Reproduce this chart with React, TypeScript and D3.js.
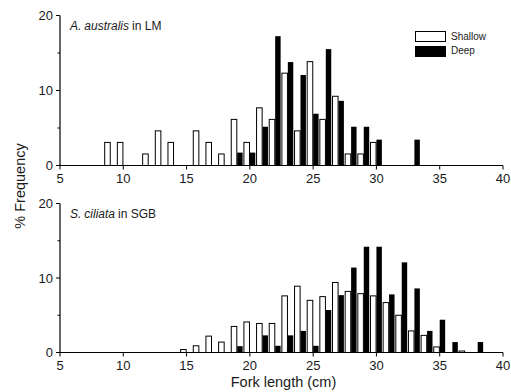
import React from "react";
import * as d3 from "d3";

const topShallowCats = [9, 10, 12, 13, 14, 16, 17, 18, 19, 20, 21, 22, 23, 24, 25, 26, 27, 28, 29, 30];
const topShallowVals = [3.08, 3.08, 1.54, 4.62, 3.08, 4.62, 3.08, 1.54, 6.15, 3.08, 7.69, 6.15, 12.31, 4.62, 13.85, 6.15, 9.23, 1.54, 1.54, 3.08];
const topDeepCats = [19, 20, 21, 22, 23, 24, 25, 26, 27, 28, 29, 30, 33];
const topDeepVals = [1.72, 1.72, 5.17, 17.24, 13.79, 12.07, 6.9, 15.52, 8.62, 5.17, 5.17, 3.45, 3.45];

const botShallowCats = [15, 16, 17, 18, 19, 20, 21, 22, 23, 24, 25, 26, 27, 28, 29, 30, 31, 32, 33, 34, 35, 37];
const botShallowVals = [0.4, 0.9, 2.2, 1.4, 3.5, 4.1, 3.9, 3.9, 7.6, 8.9, 7.0, 7.5, 9.4, 8.2, 7.9, 7.6, 6.7, 5.0, 2.9, 2.3, 0.75, 0.2];
const botDeepCats = [19, 21, 22, 23, 24, 25, 26, 27, 28, 29, 30, 31, 32, 33, 34, 35, 36, 38];
const botDeepVals = [0.85, 2.3, 0.9, 2.3, 2.9, 0.9, 5.7, 7.7, 11.4, 14.2, 14.2, 7.8, 12.1, 8.6, 2.9, 4.4, 1.4, 1.4];

const xTicks = [5, 10, 15, 20, 25, 30, 35, 40];
const yMajor = [0, 10, 20];
const yMinor = [5, 15];

const FONT = "Liberation Sans, Arial, sans-serif";
const INK = "#1a1a1a";

const x = d3.scaleLinear().domain([5, 40]).range([60, 503]);

function Panel({ y0, y20, shallowC, shallowV, deepC, deepV, genus, species, loc }: any) {
  const y = d3.scaleLinear().domain([0, 20]).range([y0, y20]);
  return (
    <g>
      {shallowC.map((c: number, i: number) => (
        <rect key={"s" + i} x={x(c - 0.47)} width={x(c - 0.03) - x(c - 0.47)} y={y(shallowV[i])} height={y(0) - y(shallowV[i])} fill="#fff" stroke="#000" strokeWidth={1} />
      ))}
      {deepC.map((c: number, i: number) => (
        <rect key={"d" + i} x={x(c)} width={x(c + 0.43) - x(c)} y={y(deepV[i])} height={y(0) - y(deepV[i])} fill="#000" />
      ))}
      <line x1={x(5)} x2={x(5)} y1={y(0)} y2={y(20)} stroke="#000" strokeWidth={1.2} />
      <line x1={x(5)} x2={x(40)} y1={y(0)} y2={y(0)} stroke="#000" strokeWidth={1.2} />
      {yMajor.map((t) => (
        <g key={"ym" + t}>
          <line x1={x(5) - 4} x2={x(5)} y1={y(t)} y2={y(t)} stroke="#000" />
          <text x={x(5) - 7} y={y(t)} dy="0.36em" textAnchor="end" fontSize={13} fontFamily={FONT} fill={INK}>{t}</text>
        </g>
      ))}
      {yMinor.map((t) => (
        <line key={"yn" + t} x1={x(5) - 2.5} x2={x(5)} y1={y(t)} y2={y(t)} stroke="#000" />
      ))}
      {xTicks.map((t) => (
        <g key={"x" + t}>
          <line x1={x(t)} x2={x(t)} y1={y(0)} y2={y(0) + 4} stroke="#000" />
          <text x={x(t)} y={y(0) + 17.5} textAnchor="middle" fontSize={13} fontFamily={FONT} fill={INK}>{t}</text>
        </g>
      ))}
      <text x={70} y={y(20) + 14} fontSize={12} fontFamily={FONT} fill={INK}>
        <tspan fontStyle="italic">{genus}</tspan>
        <tspan fontStyle="italic" dx={3}>{species}</tspan>
        <tspan dx={3}>{loc}</tspan>
      </text>
    </g>
  );
}

export default function App() {
  return (
    <svg width={511} height={392} style={{ position: "absolute", left: 0, top: 0, background: "#fff" }}>
      <rect x={0} y={0} width={511} height={392} fill="#fff" />
      <Panel y0={165.5} y20={15.5} shallowC={topShallowCats} shallowV={topShallowVals} deepC={topDeepCats} deepV={topDeepVals} genus="A." species="australis" loc="in LM" />
      <Panel y0={352.5} y20={203.5} shallowC={botShallowCats} shallowV={botShallowVals} deepC={botDeepCats} deepV={botDeepVals} genus="S." species="ciliata" loc="in SGB" />
      <rect x={415.5} y={31.5} width={30} height={10} fill="#fff" stroke="#000" strokeWidth={1} />
      <rect x={415} y={46} width={31} height={11} fill="#000" />
      <text x={451} y={36} dy="0.36em" fontSize={10} fontFamily={FONT} fill={INK}>Shallow</text>
      <text x={451} y={50} dy="0.36em" fontSize={10} fontFamily={FONT} fill={INK}>Deep</text>
      <text transform="translate(25,186) rotate(-90)" textAnchor="middle" fontSize={14.5} fontFamily={FONT} fill={INK}>% Frequency</text>
      <text x={283.5} y={387} textAnchor="middle" fontSize={14.5} fontFamily={FONT} fill={INK}>Fork length (cm)</text>
    </svg>
  );
}
